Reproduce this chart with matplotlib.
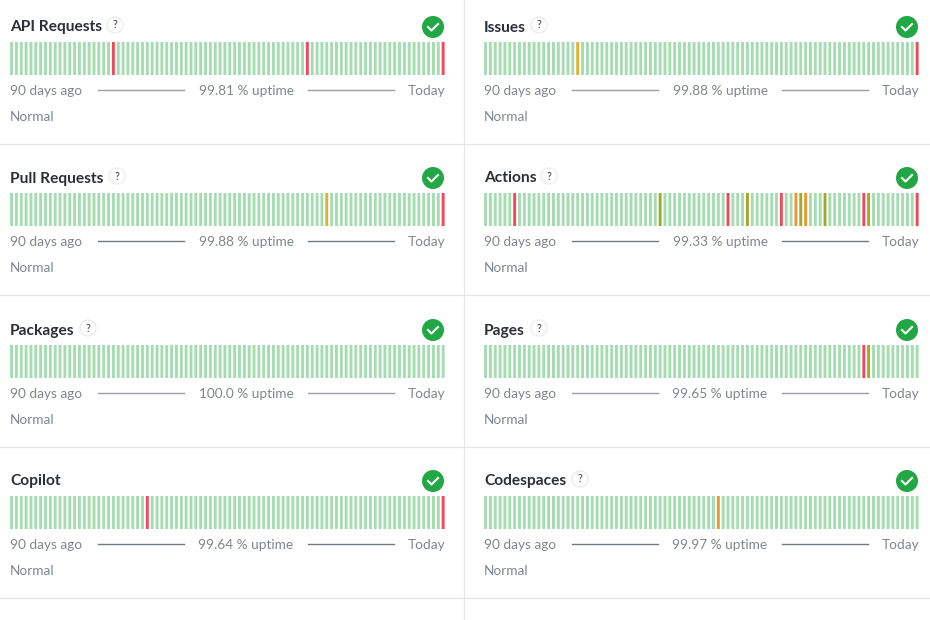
import matplotlib
matplotlib.use('Agg')
import matplotlib.pyplot as plt
from matplotlib.patches import Circle

plt.rcParams['font.family'] = ['Lato', 'DejaVu Sans']

W, H = 930, 620
DAYS = 90

names = ['API Requests', 'Issues', 'Pull Requests', 'Actions', 'Packages', 'Pages', 'Copilot', 'Codespaces']
uptime = ['99.81', '99.88', '99.88', '99.33', '100.0', '99.65', '99.64', '99.97']

# day index -> status, everything else is a normal day
api_days = {21: 'red', 61: 'red', 89: 'red'}
issues_days = {19: 'yellow', 89: 'red'}
pull_days = {65: 'yellow', 89: 'red'}
actions_days = {6: 'red', 36: 'olive', 50: 'red', 54: 'olive', 61: 'red', 64: 'orange', 65: 'olive',
                66: 'orange', 70: 'olive', 78: 'red', 79: 'olive', 89: 'red'}
packages_days = {}
pages_days = {78: 'red', 79: 'olive'}
copilot_days = {28: 'red', 89: 'red'}
codespaces_days = {48: 'orange'}
incidents = [api_days, issues_days, pull_days, actions_days, packages_days, pages_days, copilot_days, codespaces_days]

colors = {'ok': '#a5dcb2', 'red': '#f0495c', 'olive': '#a3a82c', 'orange': '#ec9636', 'yellow': '#e3b02f'}

# layout in pixels
col_x = [10.5, 484.5]
bar_w = 434.5
bar_top = [42, 193, 345, 496]
help_x = [115, 539, 117, 549, 88, 539, None, 580]
row_lines = [144, 295, 447, 598]
line_col = ['#9a9ea5', '#74787f', '#9a9ea5', '#74787f']

fig = plt.figure(figsize=(W / 100, H / 100), dpi=100)

# overlay for text, dividers and icons, measured in pixels
bg = fig.add_axes([0, 0, 1, 1])
bg.set_xlim(0, W)
bg.set_ylim(H, 0)
bg.axis('off')

for y in row_lines:
    bg.plot([0, W], [y, y], color='#e4e6e9', lw=0.9)
bg.plot([464, 464], [0, H], color='#e4e6e9', lw=0.9)

for i, name in enumerate(names):
    row, col = divmod(i, 2)
    x0 = col_x[col]
    top = bar_top[row]

    ax = fig.add_axes([(x0 - 0.4) / W, 1 - (top + 33) / H, bar_w / W, 33 / H])
    cols = [colors[incidents[i].get(d, 'ok')] for d in range(DAYS)]
    ax.bar(range(DAYS), [1] * DAYS, width=0.6, color=cols, snap=False, lw=0)
    ax.set_xlim(-0.3, DAYS - 0.7)
    ax.set_ylim(0, 1)
    ax.axis('off')

    bg.text(x0 - 0.5, top - 14.5, name, fontsize=11.2, fontweight='bold', color='#2b2f36', va='center')
    if help_x[i] is not None:
        bg.add_patch(Circle((help_x[i], top - 17), 8, fc='white', ec='#e6e8eb', lw=0.8))
        bg.text(help_x[i], top - 17, '?', fontsize=8, color='#3a3f47', ha='center', va='center')

    # status icon
    cx = x0 + 422.5
    cy = top - 15
    bg.add_patch(Circle((cx, cy), 11, fc='#22a745', ec='none'))
    bg.plot([cx - 5, cx - 1.5, cx + 5], [cy, cy + 3.5, cy - 3], color='white', lw=1.5)

    fy = top + 48
    bg.text(x0 - 0.5, fy + 1, '90 days ago', fontsize=9.8, color='#81868d', va='center')
    bg.text(x0 + 235.5, fy + 1, uptime[i] + ' % uptime', fontsize=9.8, color='#81868d', va='center', ha='center')
    bg.text(x0 + 434.5, fy + 1, 'Today', fontsize=9.8, color='#81868d', va='center', ha='right')
    bg.plot([x0 + 87, x0 + 173], [fy, fy], color=line_col[row], lw=1)
    bg.plot([x0 + 297, x0 + 383], [fy, fy], color=line_col[row], lw=1)
    bg.text(x0 - 0.5, top + 75, 'Normal', fontsize=9.8, color='#81868d', va='center')

fig.savefig('out.png', dpi=100)
